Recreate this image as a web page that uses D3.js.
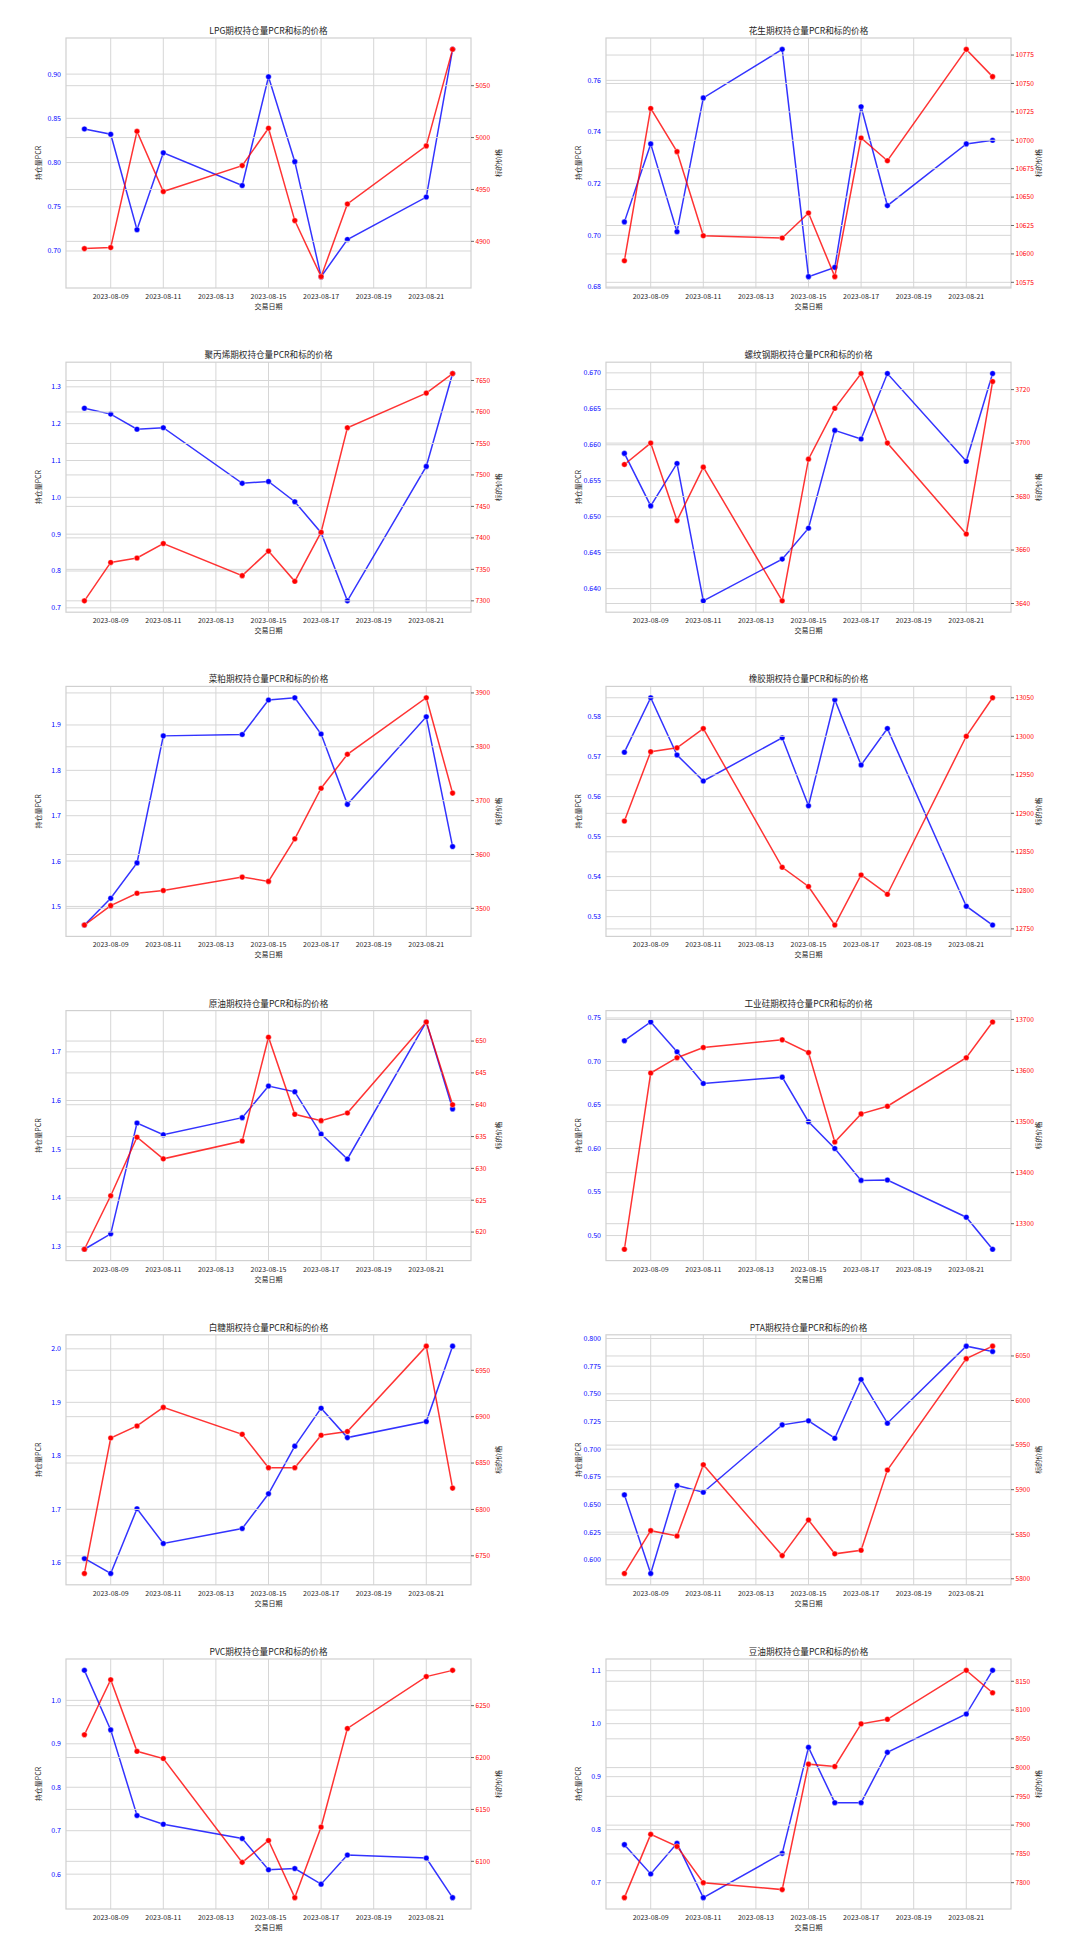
<!DOCTYPE html>
<html>
<head>
<meta charset="utf-8">
<script src="https://cdn.jsdelivr.net/npm/d3@7/dist/d3.min.js"></script>
<style>
  html, body { margin: 0; padding: 0; background: #ffffff; }
  svg { display: block; }
  text { font-family: "Noto Sans CJK SC", "Noto Sans", sans-serif; }
</style>
</head>
<body>
<svg id="chart" width="1080" height="1944"></svg>
<script>
// ---------------- DATA ----------------
const dates = ["2023-08-08","2023-08-09","2023-08-10","2023-08-11","2023-08-14","2023-08-15","2023-08-16","2023-08-17","2023-08-18","2023-08-21","2023-08-22"];
const xTickLabels = ["2023-08-09","2023-08-11","2023-08-13","2023-08-15","2023-08-17","2023-08-19","2023-08-21"];
const products = ["LPG","花生","聚丙烯","螺纹钢","菜粕","橡胶","原油","工业硅","白糖","PTA","PVC","豆油"];

const pcrLPG   = [0.838,0.832,0.724,0.811,0.774,0.897,0.801,0.671,0.713,0.761,0.928];
const priceLPG = [4893,4894,5006,4948,4973,5009,4920,4866,4936,4992,5085];
const pcrPeanut   = [0.7052,0.7354,0.7014,0.7532,0.7720,0.6840,0.6876,0.7498,0.7115,0.7354,0.7368];
const pricePeanut = [10594,10728,10690,10616,10614,10636,10580,10702,10682,10780,10756];
const pcrPP   = [1.242,1.226,1.185,1.189,1.038,1.043,0.988,0.904,0.719,1.084,1.336];
const pricePP = [7300,7361,7368,7391,7340,7379,7331,7409,7575,7630,7661];
const pcrRebar   = [0.6588,0.6515,0.6574,0.6383,0.6441,0.6484,0.6620,0.6608,0.6699,0.6577,0.6699];
const priceRebar = [3692,3700,3671,3691,3641,3694,3713,3726,3700,3666,3723];
const pcrRM   = [1.459,1.518,1.596,1.876,1.879,1.955,1.960,1.880,1.725,1.918,1.632];
const priceRM = [3469,3505,3528,3533,3558,3550,3629,3723,3786,3891,3714];
const pcrRubber   = [0.5711,0.5847,0.5704,0.5639,0.5747,0.5577,0.5842,0.5679,0.5770,0.5326,0.5279];
const priceRubber = [12890,12980,12985,13010,12830,12805,12755,12820,12795,13000,13050];
const pcrCrude   = [1.2945,1.3262,1.5538,1.5297,1.5648,1.6297,1.6179,1.5310,1.4800,1.7614,1.5828];
const priceCrude = [617.3,625.7,634.9,631.5,634.3,650.6,638.5,637.5,638.7,653.0,640.0];
const pcrSi   = [0.7239,0.7454,0.7111,0.6747,0.6820,0.6308,0.6000,0.5634,0.5638,0.5211,0.4843];
const priceSi = [13250,13595,13625,13645,13660,13635,13460,13515,13530,13625,13695];
const pcrSugar   = [1.608,1.580,1.701,1.636,1.664,1.729,1.818,1.889,1.834,1.864,2.005];
const priceSugar = [6731,6877,6890,6910,6881,6845,6845,6880,6884,6976,6823];
const pcrPTA   = [0.6587,0.5877,0.6672,0.6611,0.7220,0.7256,0.7099,0.7630,0.7235,0.7931,0.7883];
const pricePTA = [5806,5854,5848,5928,5826,5866,5828,5832,5922,6047,6061];
const pcrPVC   = [1.069,0.932,0.735,0.715,0.682,0.610,0.613,0.577,0.644,0.637,0.546];
const pricePVC = [6222,6275,6206,6199,6099,6120,6065,6133,6228,6278,6284];
const pcrSoyOil   = [0.7717,0.7164,0.7742,0.6717,0.7553,0.9553,0.8509,0.8509,0.9459,1.0182,1.1006];
const priceSoyOil = [7774,7884,7863,7800,7788,8006,8002,8076,8084,8169,8130];

const leftTicksLPG = ["0.70","0.75","0.80","0.85","0.90"];
const rightTicksLPG = ["4900","4950","5000","5050"];
const leftTicksPeanut = ["0.68","0.70","0.72","0.74","0.76"];
const rightTicksPeanut = ["10575","10600","10625","10650","10675","10700","10725","10750","10775"];
const leftTicksPP = ["0.7","0.8","0.9","1.0","1.1","1.2","1.3"];
const rightTicksPP = ["7300","7350","7400","7450","7500","7550","7600","7650"];
const leftTicksRebar = ["0.640","0.645","0.650","0.655","0.660","0.665","0.670"];
const rightTicksRebar = ["3640","3660","3680","3700","3720"];
const leftTicksRM = ["1.5","1.6","1.7","1.8","1.9"];
const rightTicksRM = ["3500","3600","3700","3800","3900"];
const leftTicksRubber = ["0.53","0.54","0.55","0.56","0.57","0.58"];
const rightTicksRubber = ["12750","12800","12850","12900","12950","13000","13050"];
const leftTicksCrude = ["1.3","1.4","1.5","1.6","1.7"];
const rightTicksCrude = ["620","625","630","635","640","645","650"];
const leftTicksSi = ["0.50","0.55","0.60","0.65","0.70","0.75"];
const rightTicksSi = ["13300","13400","13500","13600","13700"];
const leftTicksSugar = ["1.6","1.7","1.8","1.9","2.0"];
const rightTicksSugar = ["6750","6800","6850","6900","6950"];
const leftTicksPTA = ["0.600","0.625","0.650","0.675","0.700","0.725","0.750","0.775","0.800"];
const rightTicksPTA = ["5800","5850","5900","5950","6000","6050"];
const leftTicksPVC = ["0.6","0.7","0.8","0.9","1.0"];
const rightTicksPVC = ["6100","6150","6200","6250"];
const leftTicksSoyOil = ["0.7","0.8","0.9","1.0","1.1"];
const rightTicksSoyOil = ["7800","7850","7900","7950","8000","8050","8100","8150"];

const pcrSeries   = [pcrLPG,pcrPeanut,pcrPP,pcrRebar,pcrRM,pcrRubber,pcrCrude,pcrSi,pcrSugar,pcrPTA,pcrPVC,pcrSoyOil];
const priceSeries = [priceLPG,pricePeanut,pricePP,priceRebar,priceRM,priceRubber,priceCrude,priceSi,priceSugar,pricePTA,pricePVC,priceSoyOil];
const leftTicks   = [leftTicksLPG,leftTicksPeanut,leftTicksPP,leftTicksRebar,leftTicksRM,leftTicksRubber,leftTicksCrude,leftTicksSi,leftTicksSugar,leftTicksPTA,leftTicksPVC,leftTicksSoyOil];
const rightTicks  = [rightTicksLPG,rightTicksPeanut,rightTicksPP,rightTicksRebar,rightTicksRM,rightTicksRubber,rightTicksCrude,rightTicksSi,rightTicksSugar,rightTicksPTA,rightTicksPVC,rightTicksSoyOil];

// ---------------- DRAW ----------------
const svg = d3.select("#chart");
svg.append("rect").attr("width",1080).attr("height",1944).attr("fill","#ffffff");

const parse = d3.utcParse("%Y-%m-%d");
const dateObjs = dates.map(parse);
const xTickDates = xTickLabels.map(parse);

const W = 405, H = 250;
const colX = [66, 606];
const rowY0 = 38, rowStep = 324.2;
const gridColor = "#d6d6d6";
const spineColor = "#d0d0d0";
const textColor = "#262626";

function padDomain(vals){
  const [mn, mx] = d3.extent(vals);
  const p = (mx - mn) * 0.05;
  return [mn - p, mx + p];
}

const [dMin, dMax] = d3.extent(dateObjs);
const dPad = (dMax - dMin) * 0.05;

products.forEach((name, i) => {
  const col = i % 2, row = Math.floor(i / 2);
  const x0 = colX[col], y0 = rowY0 + row * rowStep;
  const g = svg.append("g").attr("transform", `translate(${x0},${y0})`);

  const x = d3.scaleUtc().domain([new Date(+dMin - dPad), new Date(+dMax + dPad)]).range([0, W]);
  const yL = d3.scaleLinear().domain(padDomain(pcrSeries[i])).range([H, 0]);
  const yR = d3.scaleLinear().domain(padDomain(priceSeries[i])).range([H, 0]);

  // left grid (horizontal)
  g.append("g").selectAll("line").data(leftTicks[i]).join("line")
    .attr("x1",0).attr("x2",W)
    .attr("y1",d=>yL(+d)).attr("y2",d=>yL(+d))
    .attr("stroke",gridColor).attr("stroke-width",1);
  // vertical grid
  g.append("g").selectAll("line").data(xTickDates).join("line")
    .attr("x1",d=>x(d)).attr("x2",d=>x(d))
    .attr("y1",0).attr("y2",H)
    .attr("stroke",gridColor).attr("stroke-width",1);

  // PCR line
  const lineL = d3.line().x((d,k)=>x(dateObjs[k])).y(d=>yL(d));
  g.append("path").datum(pcrSeries[i]).attr("d",lineL)
    .attr("fill","none").attr("stroke","blue").attr("stroke-width",1.5).attr("stroke-opacity",0.8);
  g.append("g").selectAll("circle").data(pcrSeries[i]).join("circle")
    .attr("cx",(d,k)=>x(dateObjs[k])).attr("cy",d=>yL(d)).attr("r",2.8)
    .attr("fill","blue").attr("stroke","#ffffff").attr("stroke-width",0.4);

  // right grid (horizontal)
  g.append("g").selectAll("line").data(rightTicks[i]).join("line")
    .attr("x1",0).attr("x2",W)
    .attr("y1",d=>yR(+d)).attr("y2",d=>yR(+d))
    .attr("stroke",gridColor).attr("stroke-width",1);

  // Price line
  const lineR = d3.line().x((d,k)=>x(dateObjs[k])).y(d=>yR(d));
  g.append("path").datum(priceSeries[i]).attr("d",lineR)
    .attr("fill","none").attr("stroke","red").attr("stroke-width",1.5).attr("stroke-opacity",0.8);
  g.append("g").selectAll("circle").data(priceSeries[i]).join("circle")
    .attr("cx",(d,k)=>x(dateObjs[k])).attr("cy",d=>yR(d)).attr("r",2.8)
    .attr("fill","red").attr("stroke","#ffffff").attr("stroke-width",0.4);

  // frame
  g.append("rect").attr("x",0).attr("y",0).attr("width",W).attr("height",H)
    .attr("fill","none").attr("stroke",spineColor).attr("stroke-width",1.2);

  // x axis tick labels
  g.append("g").selectAll("text").data(xTickDates).join("text")
    .attr("x",d=>x(d)).attr("y",H+11)
    .attr("text-anchor","middle").attr("font-size",7).attr("fill",textColor)
    .text((d,k)=>xTickLabels[k]);

  // left tick labels
  g.append("g").selectAll("text").data(leftTicks[i]).join("text")
    .attr("x",-5).attr("y",d=>yL(+d)).attr("dy","0.35em")
    .attr("text-anchor","end").attr("font-size",7).attr("fill","blue")
    .text(d=>d);

  // right ticks + labels
  g.append("g").selectAll("line").data(rightTicks[i]).join("line")
    .attr("x1",W).attr("x2",W+3).attr("y1",d=>yR(+d)).attr("y2",d=>yR(+d))
    .attr("stroke","#444").attr("stroke-width",0.8);
  g.append("g").selectAll("text").data(rightTicks[i]).join("text")
    .attr("x",W+4.5).attr("y",d=>yR(+d)).attr("dy","0.35em")
    .attr("text-anchor","start").attr("font-size",6.6).attr("fill","red")
    .text(d=>d);

  // axis labels
  g.append("text").attr("x",W/2).attr("y",H+21).attr("text-anchor","middle")
    .attr("font-size",7).attr("fill",textColor).text("交易日期");
  g.append("text").attr("transform",`translate(-27,${H/2}) rotate(-90)`)
    .attr("text-anchor","middle").attr("dy","0.35em")
    .attr("font-size",7).attr("fill",textColor).text("持仓量PCR");
  g.append("text").attr("transform",`translate(${W+28},${H/2}) rotate(-90)`)
    .attr("text-anchor","middle").attr("dy","0.35em")
    .attr("font-size",7).attr("fill",textColor).text("标的价格");

  // title
  g.append("text").attr("x",W/2).attr("y",-4).attr("text-anchor","middle")
    .attr("font-size",8.6).attr("fill",textColor)
    .text(name + "期权持仓量PCR和标的价格");
});
</script>
</body>
</html>
